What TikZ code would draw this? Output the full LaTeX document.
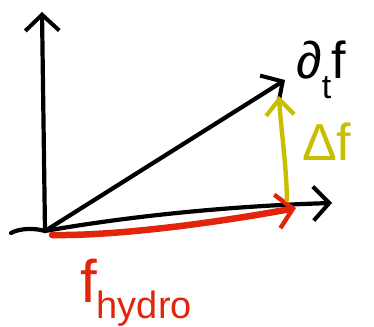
\documentclass[tikz,border=0pt]{standalone}
\usepackage{fontspec}
\setmainfont{Liberation Sans}
\usetikzlibrary{arrows.meta}
\definecolor{penred}{RGB}{226,36,10}
\definecolor{penyellow}{RGB}{200,190,0}
\newcommand{\lblbig}{\fontsize{52}{56}\selectfont}
\newcommand{\lblsub}{\fontsize{34}{36}\selectfont}
\begin{document}
\begin{tikzpicture}[x=1pt,y=-1pt,line cap=round,line join=round,
  pen/.style={line width=4.2pt,black},
  penarrow/.style={pen,-{Straight Barb[length=16pt,width=34pt,line width=4pt]}},
  redarrow/.style={line width=6.5pt,penred,-{Straight Barb[length=16pt,width=34pt,line width=4.4pt]}},
  yelarrow/.style={line width=4.4pt,penyellow,-{Straight Barb[length=16pt,width=28pt,line width=4.2pt]}},
  lbl/.style={inner sep=0pt,anchor=base west}]
\useasboundingbox (0,0) rectangle (374,326);
\coordinate (O) at (45,231);
\coordinate (L) at (11,233);
\coordinate (YT) at (42,12);
\coordinate (XT) at (332,203);
\coordinate (T) at (285,80);
\coordinate (R0) at (52,235);
\coordinate (H) at (296,208);
\coordinate (B) at (287,200);
\coordinate (Yt) at (279,96);
\draw[pen] (L) .. controls (20,228) and (35,228) .. (O);
\draw[penarrow] (O) -- (YT);
\draw[penarrow] (O) .. controls (130,216) and (230,206) .. (XT);
\draw[redarrow] (R0) .. controls (120,236) and (220,222) .. (H);
\draw[penarrow] (O) -- (T);
\draw[yelarrow] (B) .. controls (286,160) and (281,130) .. (Yt);
\node[lbl] (dtf) at (296,79) {\lblbig ∂\raisebox{-20pt}{\lblsub t}f};
\node[lbl,text=penyellow] (df) at (302,160) {\lblbig Δf};
\node[lbl,text=penred] (fh) at (80,302) {{\fontsize{60}{64}\selectfont f}\raisebox{-16pt}{\fontsize{38}{40}\selectfont hydro}};
\end{tikzpicture}
\end{document}
